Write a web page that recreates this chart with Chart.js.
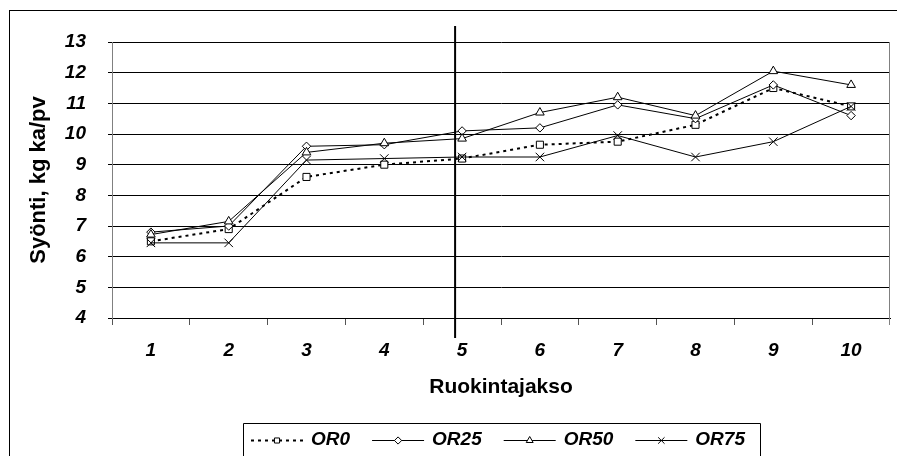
<!DOCTYPE html>
<html lang="fi">
<head>
<meta charset="utf-8">
<title>Syönti ruokintajaksoittain</title>
<script src="https://cdn.jsdelivr.net/npm/chart.js@4.4.1/dist/chart.umd.min.js"></script>
<style>
  html, body { margin: 0; padding: 0; background: #fff; }
  #wrap { width: 897px; height: 456px; position: relative; }
</style>
</head>
<body>
<div id="wrap"><canvas id="chart" width="897" height="456"></canvas></div>
<script>
// Feeding periods (x axis)
const periods = ['1', '2', '3', '4', '5', '6', '7', '8', '9', '10'];

// Dry matter intake, kg DM per day, for each treatment
const or0  = [6.5, 6.9, 8.6, 9.0, 9.2, 9.65, 9.75, 10.3, 11.5, 10.9];
const or25 = [6.8, 7.0, 9.6, 9.65, 10.1, 10.2, 10.95, 10.5, 11.6, 10.6];
const or50 = [6.72, 7.15, 9.4, 9.7, 9.85, 10.7, 11.2, 10.6, 12.05, 11.6];
const or75 = [6.45, 6.45, 9.15, 9.2, 9.25, 9.25, 9.95, 9.25, 9.75, 10.9];

// Series names
const seriesNames = ['OR0', 'OR25', 'OR50', 'OR75'];

// Y axis range and step
const yMin = 4;
const yMax = 13;
const yStep = 1;

// Axis titles
const yTitle = 'Syönti, kg ka/pv';
const xTitle = 'Ruokintajakso';

// Divider between the pre-period and the trial (in category-index units)
const dividerAt = 3.91;

const FONT = '"Liberation Sans", Arial, Helvetica, sans-serif';

function markerStyle(style, radius) {
  return {
    pointStyle: style,
    pointRadius: radius,
    pointHoverRadius: radius,
    pointBackgroundColor: '#ffffff',
    pointBorderColor: '#000000',
    pointBorderWidth: 1
  };
}

const datasets = [
  Object.assign({ label: seriesNames[0], data: or0, borderColor: '#000', borderWidth: 2, borderDash: [3, 4], order: 3 }, markerStyle('rect', 5), { legendRadius: 3.6 }),
  Object.assign({ label: seriesNames[1], data: or25, borderColor: '#000', borderWidth: 1, order: 2 }, markerStyle('rectRot', 4.2), { legendRadius: 3.6 }),
  Object.assign({ label: seriesNames[2], data: or50, borderColor: '#000', borderWidth: 1, order: 1 }, markerStyle('triangle', 5), { legendRadius: 4 }),
  Object.assign({ label: seriesNames[3], data: or75, borderColor: '#000', borderWidth: 1, order: 0 }, markerStyle('crossRot', 6), { legendRadius: 4.5 })
];
datasets.forEach(d => { d.fill = false; d.tension = 0; });

// Frame around the whole chart, white background and the plot's right edge
const framePlugin = {
  id: 'frame',
  beforeDraw(chart) {
    const ctx = chart.ctx;
    ctx.save();
    ctx.fillStyle = '#fff';
    ctx.fillRect(0, 0, chart.width, chart.height);
    ctx.strokeStyle = '#000';
    ctx.lineWidth = 1;
    ctx.strokeRect(9.5, 10.5, chart.width + 20, chart.height + 20);
    ctx.restore();
  },
  afterDraw(chart) {
    const { ctx, chartArea } = chart;
    ctx.save();
    ctx.strokeStyle = '#808080';
    ctx.lineWidth = 1;
    const rx = Math.round(chartArea.right) - 0.5;
    ctx.beginPath();
    ctx.moveTo(rx, chartArea.top);
    ctx.lineTo(rx, chartArea.bottom + 7);
    ctx.stroke();

    // Vertical divider line
    const x = chart.scales.x.getPixelForValue(dividerAt);
    ctx.strokeStyle = '#000';
    ctx.lineWidth = 2;
    ctx.beginPath();
    ctx.moveTo(x, chartArea.top - 16);
    ctx.lineTo(x, chartArea.bottom + 20);
    ctx.stroke();
    ctx.restore();
  }
};

function drawMarker(ctx, style, r, x, y) {
  const opts = { pointStyle: style, radius: r, rotation: 0, borderWidth: 1 };
  if (Chart.helpers && Chart.helpers.drawPoint) {
    Chart.helpers.drawPoint(ctx, opts, x, y);
    return;
  }
  ctx.beginPath();
  if (style === 'rect') {
    const s = r * Math.SQRT1_2;
    ctx.rect(x - s, y - s, 2 * s, 2 * s);
  } else if (style === 'rectRot') {
    ctx.moveTo(x, y - r); ctx.lineTo(x + r, y); ctx.lineTo(x, y + r); ctx.lineTo(x - r, y); ctx.closePath();
  } else if (style === 'triangle') {
    ctx.moveTo(x, y - r);
    ctx.lineTo(x + r * Math.sin(2 * Math.PI / 3), y + r / 2);
    ctx.lineTo(x - r * Math.sin(2 * Math.PI / 3), y + r / 2);
    ctx.closePath();
  } else {
    const s = r * Math.SQRT1_2;
    ctx.moveTo(x - s, y - s); ctx.lineTo(x + s, y + s);
    ctx.moveTo(x + s, y - s); ctx.lineTo(x - s, y + s);
  }
  ctx.fill();
  ctx.stroke();
}

// Boxed legend below the chart with line samples
const boxedLegend = {
  id: 'boxedLegend',
  afterDraw(chart) {
    const ctx = chart.ctx;
    const left = 243.5, top = 423.5, right = 760.5;
    const cy = 440;
    ctx.save();
    ctx.strokeStyle = '#000';
    ctx.lineWidth = 1;
    ctx.setLineDash([]);
    ctx.beginPath();
    ctx.moveTo(left, chart.height + 5);
    ctx.lineTo(left, top);
    ctx.lineTo(right, top);
    ctx.lineTo(right, chart.height + 5);
    ctx.stroke();

    ctx.font = 'italic bold 19px ' + FONT;
    ctx.textBaseline = 'middle';
    ctx.textAlign = 'left';
    let x = 251;
    chart.data.datasets.forEach(ds => {
      ctx.strokeStyle = ds.borderColor;
      ctx.lineWidth = ds.borderWidth;
      ctx.setLineDash(ds.borderDash || []);
      ctx.beginPath();
      ctx.moveTo(x, cy + 0.5);
      ctx.lineTo(x + 52, cy + 0.5);
      ctx.stroke();
      ctx.setLineDash([]);
      ctx.lineWidth = 1;
      ctx.strokeStyle = '#000';
      ctx.fillStyle = '#fff';
      drawMarker(ctx, ds.pointStyle, ds.legendRadius, x + 26, cy + 0.5);
      ctx.fillStyle = '#000';
      ctx.fillText(ds.label, x + 60, cy);
      x += 60 + ctx.measureText(ds.label).width + 22;
    });
    ctx.restore();
  }
};

new Chart(document.getElementById('chart'), {
  type: 'line',
  data: { labels: periods, datasets },
  plugins: [framePlugin, boxedLegend],
  options: {
    responsive: false,
    animation: false,
    devicePixelRatio: 1,
    layout: { padding: { left: 0, right: 1.5, top: 42, bottom: 0 } },
    plugins: {
      legend: { display: false },
      tooltip: { enabled: false }
    },
    scales: {
      x: {
        type: 'category',
        offset: true,
        afterFit(axis) { axis.height = 138; },
        grid: { display: true, offset: true, drawOnChartArea: false, drawTicks: true, tickLength: 7, color: '#555' },
        border: { display: true, color: '#000', width: 1 },
        ticks: { color: '#000', padding: 14.5, maxRotation: 0, font: { family: FONT, size: 19, style: 'italic', weight: 'bold' } },
        title: { display: true, text: xTitle, color: '#000', padding: { top: 0, bottom: 56 }, font: { family: FONT, size: 21, weight: 'bold' } }
      },
      y: {
        min: yMin,
        max: yMax,
        afterFit(axis) { axis.width = 112; },
        grid: { color: '#000', lineWidth: 1, drawTicks: true, tickLength: 4 },
        border: { display: true, color: '#808080', width: 1 },
        ticks: { stepSize: yStep, color: '#000', padding: 22, font: { family: FONT, size: 19, style: 'italic', weight: 'bold' } },
        title: { display: true, text: yTitle, color: '#000', padding: { top: 26, bottom: 0 }, font: { family: FONT, size: 22, weight: 'bold' } }
      }
    }
  }
});
</script>
</body>
</html>
